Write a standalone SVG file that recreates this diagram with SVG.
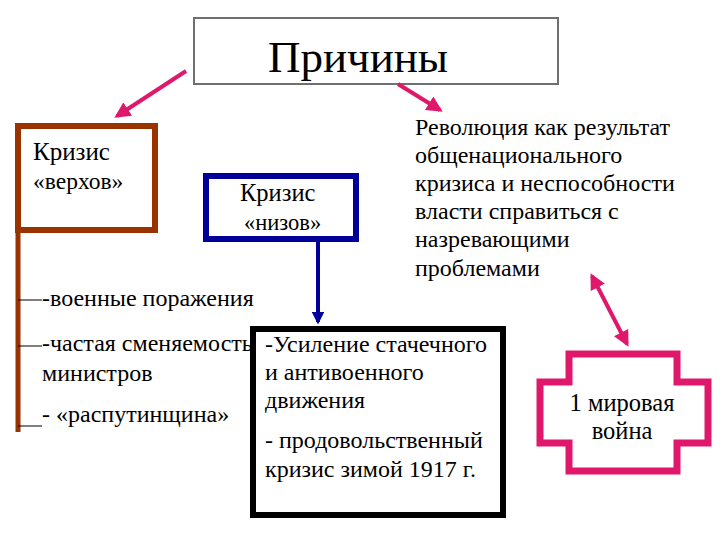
<svg xmlns="http://www.w3.org/2000/svg" width="720" height="540" viewBox="0 0 720 540">
<defs>
<style>
text{font-family:"Liberation Serif","Times New Roman",serif;fill:#000}
.t{font-size:24px}
.pk{stroke:#E0186C;stroke-width:4;fill:none}
</style>
<marker id="ap" viewBox="0 0 10 10" refX="8" refY="5" markerWidth="4" markerHeight="4" orient="auto-start-reverse"><path d="M0,0 L10,5 L0,10 z" fill="#E0186C"/></marker>
<marker id="ab" viewBox="0 0 10 10" refX="8" refY="5" markerWidth="3.2" markerHeight="3.2" orient="auto"><path d="M0,0 L10,5 L0,10 z" fill="#000099"/></marker>
</defs>
<rect width="720" height="540" fill="#fff"/>
<g id="title">
<rect x="194" y="18" width="364" height="66" fill="#fff" stroke="#707070" stroke-width="2"/>
<text x="358" y="72" font-size="45" text-anchor="middle">Причины</text>
</g>
<g id="connectors">
<line class="pk" x1="186" y1="71" x2="117" y2="116" marker-end="url(#ap)"/>
<line class="pk" x1="398" y1="84" x2="440" y2="110" marker-end="url(#ap)"/>
<line class="pk" x1="592" y1="276" x2="627" y2="344" marker-start="url(#ap)" marker-end="url(#ap)"/>
<line x1="318" y1="240" x2="318" y2="322" stroke="#000099" stroke-width="4" marker-end="url(#ab)"/>
<line x1="18" y1="232" x2="18" y2="432" stroke="#993300" stroke-width="5"/>
<g stroke="#000" stroke-width="1">
<line x1="18" y1="300" x2="42" y2="300"/>
<line x1="18" y1="346" x2="42" y2="346"/>
<line x1="18" y1="426" x2="42" y2="426"/>
</g>
</g>
<g id="verhov">
<rect x="18" y="126" width="137" height="104" fill="#fff" stroke="#993300" stroke-width="6"/>
<text x="33" y="160" font-size="25">Кризис</text>
<text x="33" y="189" font-size="23.5">«верхов»</text>
</g>
<g id="verhov-list">
<text class="t" x="42" y="306">-военные поражения</text>
<text class="t" x="42" y="351">-частая сменяемость</text>
<text class="t" x="42" y="381">министров</text>
<text class="t" x="42" y="422">- «распутинщина»</text>
</g>
<g id="nizov">
<rect x="206" y="176" width="150" height="63" fill="#fff" stroke="#000099" stroke-width="6"/>
<text x="240" y="201" font-size="24.5">Кризис</text>
<text x="244" y="230" font-size="22.5">«низов»</text>
</g>
<g id="nizov-list">
<rect x="253" y="329" width="250" height="186" fill="#fff" stroke="#000" stroke-width="6"/>
<text class="t" x="265" y="352">-Усиление стачечного</text>
<text class="t" x="265" y="380">и антивоенного</text>
<text class="t" x="265" y="408">движения</text>
<text class="t" x="265" y="448">- продовольственный</text>
<text class="t" x="265" y="477">кризис зимой 1917 г.</text>
</g>
<g id="revolution">
<text class="t" x="415" y="135">Революция как результат</text>
<text class="t" x="415" y="163">общенационального</text>
<text class="t" x="415" y="191">кризиса и неспособности</text>
<text class="t" x="415" y="219">власти справиться с</text>
<text class="t" x="415" y="247">назревающими</text>
<text class="t" x="415" y="276">проблемами</text>
</g>
<g id="war">
<path d="M569,354 H677 V382 H708 V443 H677 V471 H569 V443 H540 V382 H569 Z" fill="#fff" stroke="#E0186C" stroke-width="7"/>
<text x="622" y="411" font-size="24.5" text-anchor="middle">1 мировая</text>
<text x="622" y="439" font-size="24.5" text-anchor="middle">война</text>
</g>
</svg>
